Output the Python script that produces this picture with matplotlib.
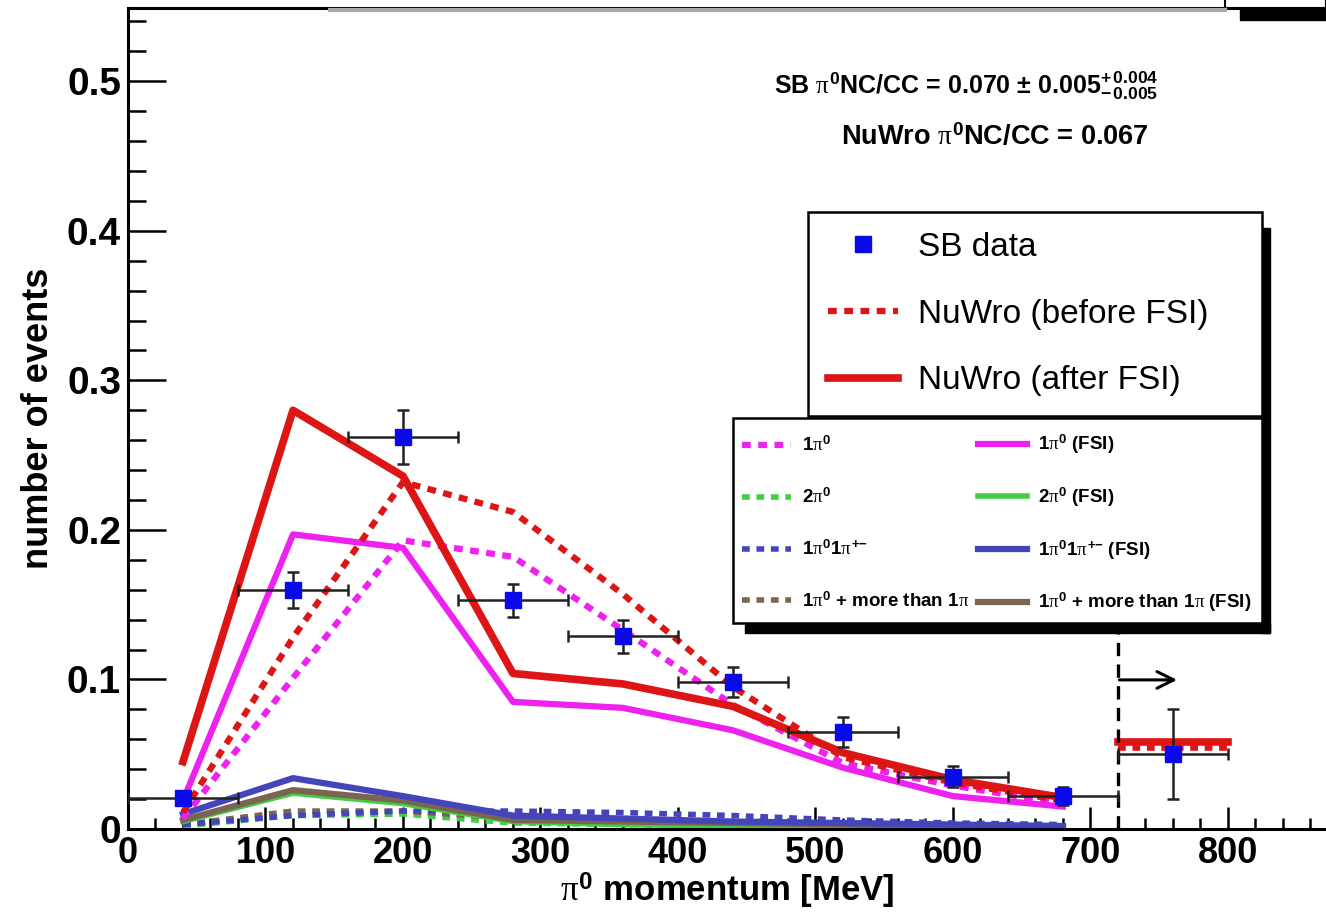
import matplotlib
matplotlib.use('Agg')
import matplotlib.pyplot as plt
from matplotlib.patches import Rectangle
from matplotlib.lines import Line2D
from matplotlib.ticker import MultipleLocator

plt.rcParams['font.family'] = ['Liberation Sans', 'DejaVu Sans']
plt.rcParams['mathtext.fontset'] = 'custom'
plt.rcParams['mathtext.rm'] = 'Liberation Sans:bold'
plt.rcParams['mathtext.it'] = 'Liberation Serif'
plt.rcParams['mathtext.bf'] = 'Liberation Sans:bold'

# bin centres [MeV]
momentum = [40, 120, 200, 280, 360, 440, 520, 600, 680]
xerr_half = 40

# SB data
sb_data = [0.021, 0.160, 0.262, 0.153, 0.129, 0.098, 0.065, 0.035, 0.022]
sb_err = [0.004, 0.012, 0.018, 0.011, 0.011, 0.010, 0.010, 0.007, 0.006]
# overflow bin (>720 MeV)
over_x = 760
over_data = 0.050
over_err = 0.030
over_before = 0.054
over_after = 0.058

# NuWro totals
nuwro_before = [0.011, 0.128, 0.232, 0.212, 0.157, 0.095, 0.048, 0.031, 0.019]
nuwro_after = [0.045, 0.280, 0.236, 0.104, 0.097, 0.082, 0.051, 0.033, 0.021]

# channels before FSI
pi0_1 = [0.007, 0.101, 0.193, 0.182, 0.133, 0.083, 0.044, 0.029, 0.017]
pi0_2 = [0.002, 0.009, 0.010, 0.004, 0.003, 0.002, 0.001, 0.001, 0.0005]
pi0_pipm = [0.003, 0.009, 0.012, 0.012, 0.011, 0.009, 0.006, 0.004, 0.003]
pi0_more = [0.003, 0.012, 0.012, 0.007, 0.005, 0.004, 0.003, 0.002, 0.001]

# channels after FSI
pi0_1_fsi = [0.019, 0.197, 0.188, 0.085, 0.081, 0.066, 0.041, 0.022, 0.015]
pi0_2_fsi = [0.005, 0.024, 0.017, 0.005, 0.003, 0.002, 0.001, 0.0005, 0.0005]
pi0_pipm_fsi = [0.010, 0.034, 0.022, 0.009, 0.007, 0.005, 0.004, 0.003, 0.002]
pi0_more_fsi = [0.006, 0.026, 0.019, 0.006, 0.005, 0.004, 0.003, 0.002, 0.001]

RED = '#dd1515'
MAG = '#ee22ee'
GREEN = '#44cc44'
BLUE = '#4444bb'
BROWN = '#7a6650'

W, H = 1326, 913
fig = plt.figure(figsize=(W / 100, H / 100), dpi=100)


def fx(px):
    return px / W


def fy(py):
    return 1 - py / H


ax = fig.add_axes([fx(128), fy(829), fx(1326) - fx(128), fy(8) - fy(829)])
ax.set_xlim(0, 871.3)
ax.set_ylim(0, 0.549)

dots = (0, (1.4, 1.2))
ax.axhline(0, color='red', lw=1.2, zorder=1)

ax.plot(momentum, pi0_2, color=GREEN, lw=4, ls=dots)
ax.plot(momentum, pi0_more, color=BROWN, lw=4, ls=dots)
ax.plot(momentum, pi0_pipm, color=BLUE, lw=4, ls=dots)
ax.plot(momentum, pi0_2_fsi, color=GREEN, lw=4)
ax.plot(momentum, pi0_more_fsi, color=BROWN, lw=4.5)
ax.plot(momentum, pi0_pipm_fsi, color=BLUE, lw=4.5)
ax.plot(momentum, pi0_1, color=MAG, lw=4.5, ls=dots)
ax.plot(momentum, pi0_1_fsi, color=MAG, lw=4.5)
ax.plot(momentum, nuwro_before, color=RED, lw=4.5, ls=dots)
ax.plot(momentum, nuwro_after, color=RED, lw=5.5)
ax.plot([over_x - xerr_half, over_x + xerr_half], [over_after] * 2, color=RED, lw=5.5)
ax.plot([over_x - xerr_half, over_x + xerr_half], [over_before] * 2, color=RED, lw=4, ls=dots)

ax.errorbar(momentum + [over_x], sb_data + [over_data], xerr=xerr_half,
            yerr=sb_err + [over_err], fmt='s', color='#0a0ae8', ms=12,
            ecolor='#222222', elinewidth=1.8, capsize=4, capthick=1.8, zorder=5)

ax.plot([720, 720], [0, 0.131], color='black', lw=2.4, ls=(0, (4, 2.5)))
ax.annotate('', xy=(765, 0.0997), xytext=(719, 0.0997),
            arrowprops=dict(arrowstyle='->, head_length=1.2, head_width=0.6',
                            color='black', lw=2.2))

ax.text(0.70, 0.905, 'SB $\\pi^{0}$NC/CC = 0.070 ± 0.005$^{+\\,0.004}_{-\\,0.005}$',
        transform=ax.transAxes, ha='center', va='center', fontsize=18, fontweight='bold')
ax.text(0.724, 0.842, 'NuWro $\\pi^{0}$NC/CC = 0.067',
        transform=ax.transAxes, ha='center', va='center', fontsize=19.5, fontweight='bold')

ax.xaxis.set_major_locator(MultipleLocator(100))
ax.xaxis.set_minor_locator(MultipleLocator(20))
ax.yaxis.set_major_locator(MultipleLocator(0.1))
ax.yaxis.set_minor_locator(MultipleLocator(0.02))
ax.tick_params(axis='x', which='major', direction='in', length=16, width=1.8, pad=5,
               labelsize=26, top=False)
ax.tick_params(axis='x', which='minor', direction='in', length=8, width=1.8, top=False)
ax.tick_params(axis='y', which='major', direction='in', length=27, width=1.8, pad=5,
               labelsize=28, right=False)
ax.tick_params(axis='y', which='minor', direction='in', length=13, width=1.8, right=False)
ax.set_yticks([0, 0.1, 0.2, 0.3, 0.4, 0.5])
ax.set_yticklabels(['0', '0.1', '0.2', '0.3', '0.4', '0.5'])
for lab in ax.get_xticklabels() + ax.get_yticklabels():
    lab.set_fontweight('bold')
ax.spines['right'].set_visible(False)
for s in ('left', 'bottom', 'top'):
    ax.spines[s].set_linewidth(2.2)

ax.set_xlabel('$\\pi^{0}$ momentum [MeV]', fontsize=25, fontweight='bold', labelpad=0)
ax.set_ylabel('number of events', fontsize=26, fontweight='bold', labelpad=8)

# main legend
h_main = [Line2D([], [], ls='none', marker='s', color='#0a0ae8', ms=12),
          Line2D([], [], color=RED, lw=4.5, ls=dots),
          Line2D([], [], color=RED, lw=5.5)]
l_main = ['SB data', 'NuWro (before FSI)', 'NuWro (after FSI)']
leg1 = fig.legend(h_main, l_main, loc='upper left',
                  bbox_to_anchor=(fx(808), fy(418), fx(1262) - fx(808), fy(212) - fy(418)),
                  mode='expand', fontsize=24, frameon=True, fancybox=False,
                  edgecolor='black', framealpha=1, borderpad=0.6, labelspacing=1.07,
                  handlelength=2.1, handletextpad=0.6, borderaxespad=0)
leg1.get_frame().set_linewidth(1.8)

# channel legend: one frame, two columns placed separately so rows line up
fig.add_artist(Rectangle((fx(1262), fy(633)), fx(8), fy(228) - fy(633),
                         transform=fig.transFigure, color='black', zorder=4))
fig.add_artist(Rectangle((fx(745), fy(633)), fx(1270) - fx(745), fy(623) - fy(633),
                         transform=fig.transFigure, color='black', zorder=4))
fig.add_artist(Rectangle((fx(733), fy(623)), fx(1262) - fx(733), fy(418) - fy(623),
                         transform=fig.transFigure, facecolor='white', edgecolor='black',
                         lw=1.8, zorder=4))

h_col1 = [Line2D([], [], color=MAG, lw=4.5, ls=dots), Line2D([], [], color=GREEN, lw=4, ls=dots),
          Line2D([], [], color=BLUE, lw=4, ls=dots), Line2D([], [], color=BROWN, lw=4, ls=dots)]
l_col1 = ['1$\\pi^{0}$', '2$\\pi^{0}$', '1$\\pi^{0}$1$\\pi^{{+}{-}}$',
          '1$\\pi^{0}$ + more than 1$\\pi$']
h_col2 = [Line2D([], [], color=MAG, lw=4.5), Line2D([], [], color=GREEN, lw=4),
          Line2D([], [], color=BLUE, lw=4.5), Line2D([], [], color=BROWN, lw=4.5)]
l_col2 = ['1$\\pi^{0}$ (FSI)', '2$\\pi^{0}$ (FSI)', '1$\\pi^{0}$1$\\pi^{{+}{-}}$ (FSI)',
          '1$\\pi^{0}$ + more than 1$\\pi$ (FSI)']
col_kw = dict(loc='upper left', prop={'size': 13.5, 'weight': 'bold'}, frameon=False,
              borderpad=0, handlelength=2.6, handletextpad=0.6, borderaxespad=0)
leg2a = fig.legend(h_col1, l_col1, bbox_to_anchor=(fx(742), fy(436)),
                   labelspacing=1.73, **col_kw)
leg2b = fig.legend(h_col2, l_col2, bbox_to_anchor=(fx(978), fy(433)),
                   labelspacing=1.56, **col_kw)
leg2a.set_zorder(5)
leg2b.set_zorder(5)

# cropped title box along the top edge
fig.add_artist(Line2D([fx(330), fx(1225)], [fy(10), fy(10)], transform=fig.transFigure,
                      color='#a8a8a8', lw=3))
fig.add_artist(Rectangle((fx(1225), fy(8)), fx(1326) - fx(1225), fy(-10) - fy(8),
                         transform=fig.transFigure, facecolor='white', edgecolor='black',
                         lw=1.5))
fig.add_artist(Rectangle((fx(1240), fy(20)), fx(1326) - fx(1240), fy(8) - fy(20),
                         transform=fig.transFigure, color='black'))

fig.savefig('out.png', dpi=100)
